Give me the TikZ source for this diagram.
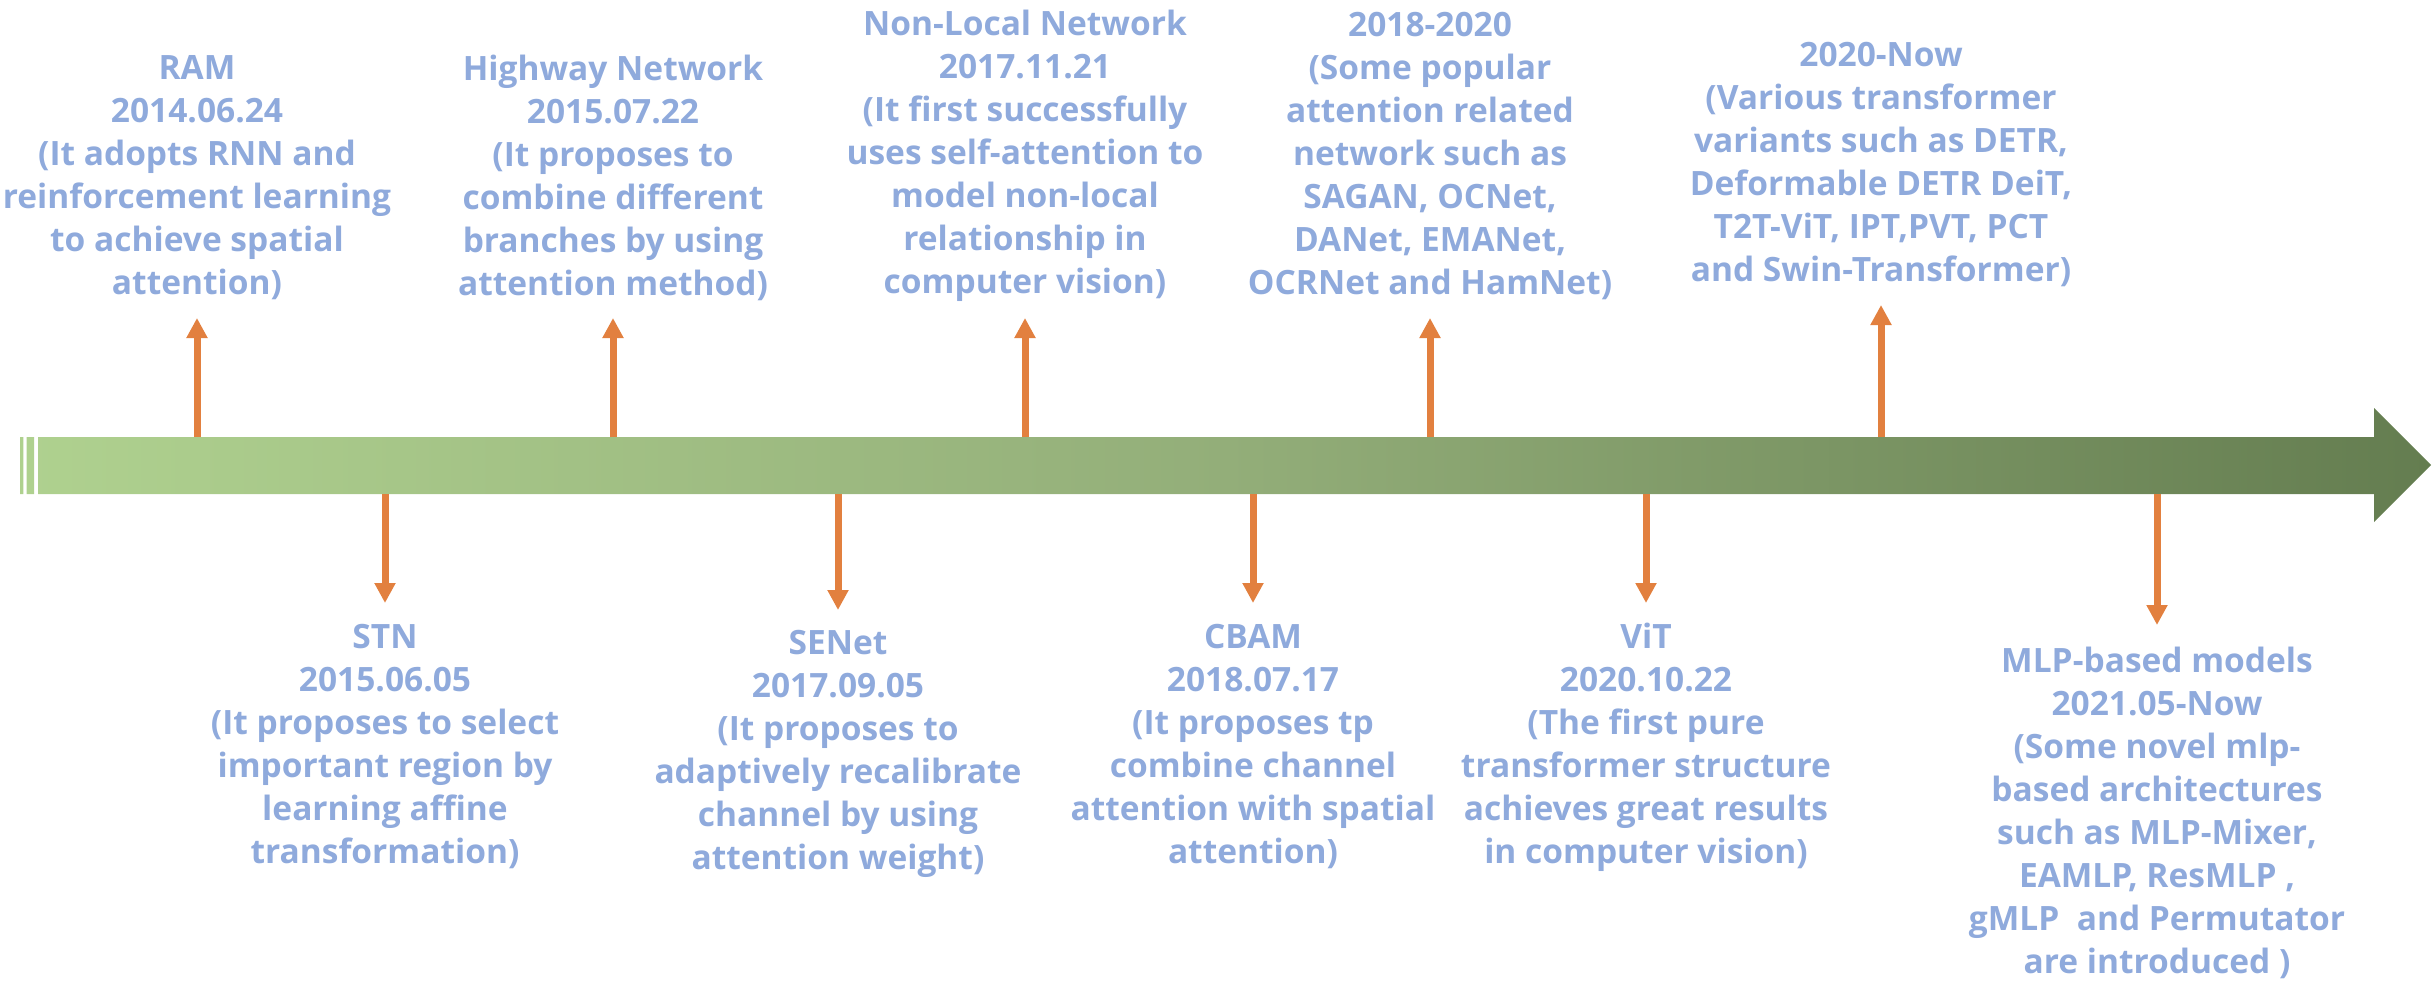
\documentclass[tikz,border=0pt]{standalone}
\usepackage{fontspec}
\setmainfont{Open Sans}
\usetikzlibrary{arrows.meta}
\definecolor{txt}{HTML}{8FAADC}
\definecolor{org}{HTML}{E2803F}
\definecolor{gL}{HTML}{AFD18F}
\definecolor{gM}{HTML}{93AE79}
\definecolor{gR}{HTML}{647D50}
\pgfdeclarehorizontalshading{bandshade}{100bp}{color(0bp)=(gL); color(25bp)=(gL); color(50bp)=(gM); color(75bp)=(gR); color(100bp)=(gR)}
\begin{document}
\begin{tikzpicture}[x=1pt,y=-1pt,
  lbl/.style={text=txt, font=\fontsize{33.5}{43}\selectfont\bfseries, align=center, inner sep=0pt},
  arr/.style={draw=org, line width=7pt, -{Triangle[width=20pt,length=20pt]}}]
\useasboundingbox (0,0) rectangle (2436,984);
% timeline band
\shade[shading=bandshade]
  (20,437) rectangle (23.3,494)
  (26.7,437) rectangle (34,494)
  (38,437) -- (2374,437) -- (2374,408) -- (2431,465) -- (2374,522) -- (2374,494) -- (38,494) -- cycle;
% top labels
\node[lbl] (ram) at (197,178) {RAM\\2014.06.24\\(It adopts RNN and\\reinforcement learning\\to achieve spatial\\attention)};
\node[lbl] (hwy) at (613,178) {Highway Network\\2015.07.22\\(It proposes to\\combine different\\branches by using\\attention method)};
\node[lbl] (nl) at (1025,156) {Non-Local Network\\2017.11.21\\(It first successfully\\uses self-attention to\\model non-local\\relationship in\\computer vision)};
\node[lbl] (pop) at (1430,156) {2018-2020\\(Some popular\\attention related\\network such as\\SAGAN, OCNet,\\DANet, EMANet,\\OCRNet and HamNet)};
\node[lbl] (tr) at (1881,165) {2020-Now\\(Various transformer\\variants such as DETR,\\Deformable DETR DeiT,\\T2T-ViT, IPT,PVT, PCT\\and Swin-Transformer)};
% bottom labels
\node[lbl] (stn) at (385,747) {STN\\2015.06.05\\(It proposes to select\\important region by\\learning affine\\transformation)};
\node[lbl] (se) at (838,754) {SENet\\2017.09.05\\(It proposes to\\adaptively recalibrate\\channel by using\\attention weight)};
\node[lbl] (cbam) at (1253,747) {CBAM\\2018.07.17\\(It proposes tp\\combine channel\\attention with spatial\\attention)};
\node[lbl] (vit) at (1646,747) {ViT\\2020.10.22\\(The first pure\\transformer structure\\achieves great results\\in computer vision)};
\node[lbl] (mlp) at (2157,813) {MLP-based models\\2021.05-Now\\(Some novel mlp-\\based architectures\\such as MLP-Mixer,\\EAMLP, ResMLP ,\\gMLP\ \ and Permutator\\are introduced )};
% arrow anchors on the band and tips
\coordinate (ramB) at (197,437);  \coordinate (ramT) at (197,318);
\coordinate (hwyB) at (613,437);  \coordinate (hwyT) at (613,318);
\coordinate (nlB) at (1025,437);  \coordinate (nlT) at (1025,318);
\coordinate (popB) at (1430,437); \coordinate (popT) at (1430,318);
\coordinate (trB) at (1881,437);  \coordinate (trT) at (1881,305);
\coordinate (stnB) at (385,494);  \coordinate (stnT) at (385,603);
\coordinate (seB) at (838,494);   \coordinate (seT) at (838,610);
\coordinate (cbamB) at (1253,494);\coordinate (cbamT) at (1253,603);
\coordinate (vitB) at (1646,494); \coordinate (vitT) at (1646,603);
\coordinate (mlpB) at (2157,494); \coordinate (mlpT) at (2157,625);
\foreach \n in {ram,hwy,nl,pop,tr,stn,se,cbam,vit,mlp}{
  \draw[arr] (\n B) -- (\n T);
}
\end{tikzpicture}
\end{document}
